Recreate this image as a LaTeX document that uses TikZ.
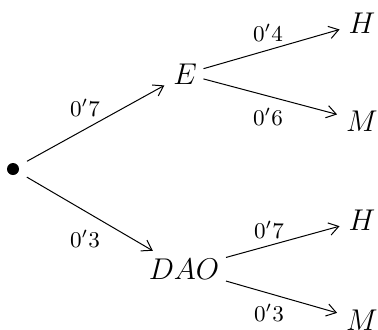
\documentclass[tikz,border=0pt]{standalone}
\usetikzlibrary{arrows.meta}

\begin{document}
\begin{tikzpicture}[x=0.4pt, y=-0.4pt,
          dot/.style={circle, fill, inner sep=0pt, minimum size=4.8pt},
          state/.style={inner sep=2.5pt, font=\large},
          arrow/.style={-{Straight Barb[length=3.8pt, width=5pt]}, shorten >=1pt},
          prob/.style={font=\small}
        ]
        \useasboundingbox (0,0) rectangle (378,329);
        \node[dot, outer sep=4pt] (root) at (13,169) {};
        \node[state] (e) at (185,74) {$E$};
        \node[state] (dao) at (184,269) {$DAO$};
        \node[state] (h1) at (362,23) {$H$};
        \node[state] (m1) at (362,121) {$M$};
        \node[state] (h2) at (362,220) {$H$};
        \node[state] (m2) at (362,320) {$M$};
        \node[prob] (p1) at (85,108) {$0'7$};
        \node[prob] (p2) at (85,239) {$0'3$};
        \node[prob] (p3) at (268,33) {$0'4$};
        \node[prob] (p4) at (268,117) {$0'6$};
        \node[prob] (p5) at (269,230) {$0'7$};
        \node[prob] (p6) at (269,313) {$0'3$};
        \draw[arrow] (root) -- (e);
        \draw[arrow] (root) -- (dao);
        \draw[arrow] (e) -- (h1);
        \draw[arrow] (e) -- (m1);
        \draw[arrow] (dao) -- (h2);
        \draw[arrow] (dao) -- (m2);
      \end{tikzpicture}
\end{document}
